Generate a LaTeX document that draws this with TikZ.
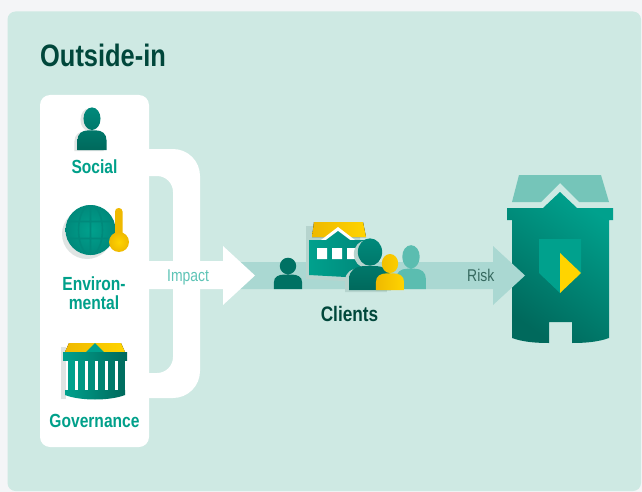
\documentclass[tikz,border=0pt]{standalone}
\usepackage{fontspec}
\setmainfont{Liberation Sans}[FakeStretch=0.82]
\usepackage{tikz}

\definecolor{pagegray}{HTML}{F4F5F7}
\definecolor{panelmint}{HTML}{CEE9E3}
\definecolor{bandmint}{HTML}{AAD8D2}
\definecolor{deepgreen}{HTML}{00473B}
\definecolor{labelteal}{HTML}{00A08A}
\definecolor{softteal}{HTML}{5EC4B6}
\definecolor{risktxt}{HTML}{36695F}
\definecolor{tealdark}{HTML}{00695C}
\definecolor{tealmid}{HTML}{00897B}
\definecolor{teallight}{HTML}{00A18D}
\definecolor{tealpale}{HTML}{5BBDB0}
\definecolor{roofmint}{HTML}{75C5B9}
\definecolor{goldA}{HTML}{EFB900}
\definecolor{goldB}{HTML}{FFD400}
\definecolor{shadegray}{HTML}{DFE4E3}
\definecolor{shademint}{HTML}{B6D4CE}

\tikzset{
  esglabel/.style={inner sep=0pt, anchor=base, align=center, text=labelteal,
    font=\bfseries\fontsize{19}{18.5}\selectfont},
  arrowtext/.style={inner sep=0pt, anchor=base west, font=\fontsize{17}{17}\selectfont},
  % head + shoulders, origin at the bottom centre
  person/.pic={
    \path[pic actions] (0,-23) ellipse[x radius=7.6, y radius=8.3]
      (-13,0) -- (-13,-7) .. controls (-13,-12) and (-9,-14.5) .. (-3,-14.5)
      -- (3,-14.5) .. controls (9,-14.5) and (13,-12) .. (13,-7) -- (13,0) -- cycle;
  }
}

\begin{document}
\begin{tikzpicture}[x=1pt, y=-1pt]
    \useasboundingbox (0,0) rectangle (642,492);
    \fill[pagegray] (0,0) rectangle (642,492);
    \fill[panelmint, rounded corners=8] (7.5,11.5) rectangle (641,491);

    % bank tower
    \fill[roofmint] (519,175) -- (601,175) -- (609,202) -- (579,202) -- (560,183)
        -- (541,202) -- (512,202) -- cycle;
    \shade[top color=teallight, bottom color=tealdark, shading angle=-35]
        (507,208) -- (543,208) -- (560,192) -- (577,208) -- (613,208) -- (613,220)
        -- (609,220) -- (609,338) .. controls (598,342) and (585,343) .. (572,343)
        -- (572,322) -- (549,322) -- (549,343) .. controls (536,343) and (523,342) .. (512,338)
        -- (512,220) -- (507,220) -- cycle;
    \fill[teallight] (539,239) -- (581,239) -- (581,273) -- (560,293) -- (539,273) -- cycle;
    \fill[goldB] (560,253) -- (581,273) -- (560,293) -- cycle;

    % risk band
    \fill[bandmint] (240,262) -- (493,262) -- (493,246) -- (525,275.5) -- (493,305)
        -- (493,289) -- (240,289) -- cycle;

    % white bracket, box and impact arrow
    \fill[white, even odd rule]
        [rounded corners=27] (100,149) -- (200,149) -- (200,398) -- (100,398) -- cycle
        [rounded corners=16] (100,176) -- (173,176) -- (173,373) -- (100,373) -- cycle;
    \fill[white, rounded corners=10] (40,95) rectangle (149,447);
    \fill[white] (149,261) -- (223,261) -- (223,246) -- (255,275.5) -- (223,305)
        -- (223,289) -- (149,289) -- cycle;

    % social
    \pic[fill=shadegray, xscale=1.12, yscale=1.36] at (89,151) {person};
    \pic[top color=tealmid, bottom color=tealdark, xscale=1.12, yscale=1.36] at (92,150) {person};

    % environmental
    \fill[shadegray] (87,234) circle[radius=25];
    \begin{scope}
        \clip (90.5,230) circle[radius=25];
        \shade[inner color=teallight, outer color=tealmid] (90.5,230) circle[radius=25];
        \draw[tealmid, line width=1.6] (65,221.5) -- (116,221.5) (65,238.5) -- (116,238.5)
            (90.5,204) -- (90.5,256) (90.5,230) ellipse[x radius=12, y radius=25];
    \end{scope}
    \fill[goldA, rounded corners=3.5] (115,208) rectangle (122.5,240);
    \shade[inner color=goldB, outer color=goldA] (119,242) circle[radius=10];

    % governance
    \fill[shadegray] (61,347) rectangle (66,399);
    \fill[left color=goldA, right color=goldB] (69,343) -- (121,343) -- (125,352)
        -- (65,352) -- cycle;
    \fill[teallight] (86,352) -- (95,343) -- (104,352) -- cycle;
    \shade[left color=teallight, right color=tealdark] (63,352) rectangle (127,360);
    \foreach \cx in {0,...,5}
        \fill[teallight!\the\numexpr100-\cx*18\relax!tealdark] ({67.5+\cx*10},360) rectangle ({74.5+\cx*10},390);
    \shade[left color=teallight, right color=tealdark] (65,390) -- (125,390) -- (125,395)
        .. controls (110,401) and (80,401) .. (65,395) -- cycle;

    % clients
    \pic[fill=tealdark!85!teallight, xscale=1.08] at (288,289) {person};
    \fill[shademint] (306,226) -- (360,226) -- (361,282) -- (306,279) -- cycle;
    \fill[left color=goldA, right color=goldB] (314,222) -- (363,222) -- (366,237)
        -- (312,237) -- cycle;
    \fill[white] (321,240) -- (338,227) -- (355,240) -- cycle;
    \shade[left color=teallight, right color=tealmid] (309,240) -- (326,240) -- (338,231)
        -- (350,240) -- (364,240) -- (364,278) -- (309,275) -- cycle;
    \fill[white] (317,248) rectangle (327,259) (332,248) rectangle (342,259)
        (347,248) rectangle (357,259);
    \pic[fill=shademint, xscale=1.6, yscale=1.65] at (366,292) {person};
    \pic[top color=tealmid, bottom color=tealdark, xscale=1.6, yscale=1.65] at (370,290) {person};
    \pic[fill=tealpale, xscale=1.15, yscale=1.4] at (411,289) {person};
    \pic[left color=goldA, right color=goldB, xscale=1.08, yscale=1.15] at (390,290) {person};

    % texts
    \node[anchor=base west, inner sep=0pt, text=deepgreen,
        font=\bfseries\fontsize{31}{31}\selectfont] (title) at (40,67) {Outside-in};
    \node[esglabel] (social) at (94.5,173) {Social};
    \node[esglabel] (environmental) at (94,309) {Environ-\\mental};
    \node[esglabel] (governance) at (94.5,427) {Governance};
    \node[esglabel, text=deepgreen, font=\bfseries\fontsize{21}{21}\selectfont]
        (clients) at (349.5,321) {Clients};
    \node[arrowtext, text=softteal] (impact) at (167,281) {Impact};
    \node[arrowtext, text=risktxt] (risk) at (467,281) {Risk};
\end{tikzpicture}
\end{document}
